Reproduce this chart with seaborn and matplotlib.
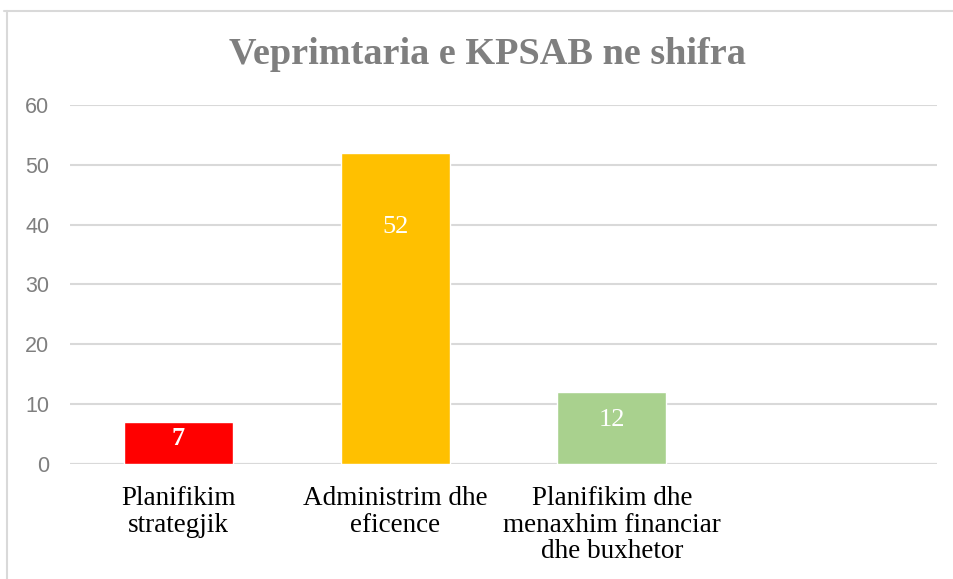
import matplotlib
matplotlib.use("Agg")
import matplotlib.pyplot as plt
import seaborn as sns
import pandas as pd
from matplotlib.lines import Line2D

categories = ["Planifikim\nstrategjik", "Administrim dhe\neficence",
              "Planifikim dhe\nmenaxhim financiar\ndhe buxhetor"]
values = [7, 52, 12]
colors = ["#FF0000", "#FFC000", "#A9D18E"]
yticks = [0, 10, 20, 30, 40, 50, 60]
title = "Veprimtaria e KPSAB ne shifra"

df = pd.DataFrame({"kategoria": categories, "vlera": values})

sns.set_style("white")
fig = plt.figure(figsize=(9.54, 5.79), dpi=100)
ax = fig.add_axes([0.0734, 0.1986, 0.9086, 0.6201])

sns.barplot(data=df, x="kategoria", y="vlera", hue="kategoria", palette=colors,
            legend=False, width=0.503, saturation=1, ax=ax, zorder=3)

ax.set_xlim(-0.5, 3.5)
ax.set_ylim(0, 60)
ax.set_yticks(yticks)
ax.grid(axis="y", color="#D9D9D9", linewidth=1.5, zorder=0)
ax.grid(axis="x", visible=False)
for s in ax.spines.values():
    s.set_visible(False)
ax.axhline(0, color="#D9D9D9", linewidth=1.5, zorder=2)
ax.set_xlabel("")
ax.set_ylabel("")
ax.tick_params(axis="y", length=0, pad=15, labelsize=15.5, labelcolor="#7F7F7F")
ax.tick_params(axis="x", length=0, pad=16)
for lab in ax.get_yticklabels():
    lab.set_fontfamily("Liberation Sans")
for lab in ax.get_xticklabels():
    lab.set_fontfamily("Liberation Serif")
    lab.set_fontsize(19.5)
    lab.set_color("black")
    lab.set_linespacing(1.07)

# data labels inside bars
label_pos = [4.3, 39.6, 7.4]
label_weight = ["bold", "normal", "normal"]
for i, (v, yp, w) in enumerate(zip(values, label_pos, label_weight)):
    ax.text(i, yp, str(v), ha="center", va="center", color="white",
            fontsize=19, fontweight=w, family="Liberation Serif", zorder=4)

fig.text(0.511, 0.906, title, ha="center", va="center", fontsize=27.5,
         fontweight="bold", color="#7F7F7F", family="Liberation Serif")

# chart frame
fig.add_artist(Line2D([4 / 954, 1], [1 - 11 / 579, 1 - 11 / 579],
                      color="#D9D9D9", linewidth=1.5))
fig.add_artist(Line2D([7 / 954, 7 / 954], [0, 1 - 11 / 579],
                      color="#D9D9D9", linewidth=1.5))

fig.savefig("out.png", dpi=100)
